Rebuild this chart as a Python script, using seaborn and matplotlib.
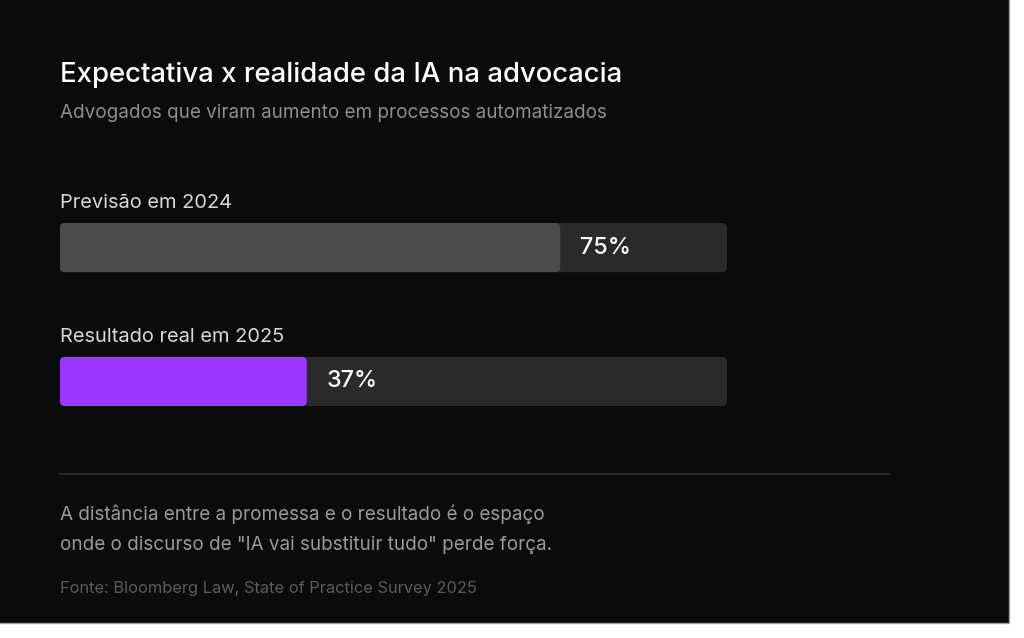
import matplotlib
matplotlib.use("Agg")
import matplotlib.pyplot as plt
import seaborn as sns
import pandas as pd
from matplotlib.patches import FancyBboxPatch, Rectangle
from matplotlib.lines import Line2D

# Data
categories = ["Previsão em 2024", "Resultado real em 2025"]
values = [75, 37]
track_max = [100, 100]
bar_colors = ["#4b4b4b", "#9b37ff"]
value_labels = [f"{v}%" for v in values]

title = "Expectativa x realidade da IA na advocacia"
subtitle = "Advogados que viram aumento em processos automatizados"
note_lines = [
    "A distância entre a promessa e o resultado é o espaço",
    'onde o discurso de "IA vai substituir tudo" perde força.',
]
source = "Fonte: Bloomberg Law, State of Practice Survey 2025"

W, H, DPI = 1024, 638, 100
BG = "#0b0b0b"
TRACK = "#2a2a2a"

sns.set_theme(style="white")
plt.rcParams["font.family"] = ["Inter", "DejaVu Sans"]


def fy(px):
    """Pixel row (from top) to figure fraction."""
    return 1 - px / H


fig = plt.figure(figsize=(W / DPI, H / DPI), dpi=DPI, facecolor="white")

# dark card with a thin grey edge on the right and bottom
card_r, card_b = 1008.5, 622.5
fig.patches.append(Rectangle((-10 / W, fy(card_b)), (card_r + 10) / W, (card_b + 20) / H,
                             transform=fig.transFigure, facecolor=BG,
                             edgecolor="#a0a0a0", linewidth=1.0, zorder=-10))

# bar axes, positioned over the bar area
h = 0.367
left, right = 60, 727
top, bottom = 223, 406
ax = fig.add_axes([left / W, fy(bottom), (right - left) / W, (bottom - top) / H])
ax.set_facecolor("none")
ax.set_zorder(5)

df = pd.DataFrame({"categoria": categories, "valor": values, "total": track_max})
sns.barplot(data=df, x="total", y="categoria", color=TRACK, width=h, ax=ax,
            orient="h", saturation=1)
sns.barplot(data=df, x="valor", y="categoria", hue="categoria", palette=bar_colors,
            width=h, ax=ax, orient="h", saturation=1, legend=False)
ax.set_xlim(0, 100)
ax.set_ylim(1 + h / 2, -h / 2)
ax.axis("off")

# rounded corners
xpp = 100 / (right - left)
ypp = (1 + h) / (bottom - top)
r_px = 5
for p in list(ax.patches):
    x, y = p.get_x(), p.get_y()
    w, hh = p.get_width(), p.get_height()
    fc = p.get_facecolor()
    z = p.get_zorder()
    p.remove()
    ax.add_patch(FancyBboxPatch((x, y), w, hh,
                                boxstyle=f"round,pad=0,rounding_size={r_px * xpp}",
                                mutation_aspect=ypp / xpp, facecolor=fc,
                                edgecolor="none", zorder=z))

pt = 72 / DPI
for i, (cat, v, lab) in enumerate(zip(categories, values, value_labels)):
    ax.annotate(cat, xy=(0, i - h / 2), xytext=(0, 14.5 * pt), textcoords="offset points",
                ha="left", va="baseline", color="#d8d8d8", fontsize=14.45, annotation_clip=False)
    ax.annotate(lab, xy=(v, i), xytext=(20 * pt, 0), textcoords="offset points",
                ha="left", va="center", color="white", fontsize=16.8, fontweight="medium",
                annotation_clip=False)

# header
fig.text(60 / W, fy(82), title, color="white", fontsize=19.8, fontweight="medium", va="baseline")
fig.text(60 / W, fy(118), subtitle, color="#8e8e8e", fontsize=13.6, va="baseline")

# divider
fig.lines.append(Line2D([60 / W, 890 / W], [fy(474), fy(474)], transform=fig.transFigure,
                        color=TRACK, linewidth=1.5))

# footer
for line, base in zip(note_lines, [520, 550]):
    fig.text(60 / W, fy(base), line, color="#9a9a9a", fontsize=13.6, va="baseline")
fig.text(60 / W, fy(593), source, color="#5c5c5c", fontsize=11.8, va="baseline")

fig.savefig("out.png", dpi=DPI, facecolor=fig.get_facecolor())
